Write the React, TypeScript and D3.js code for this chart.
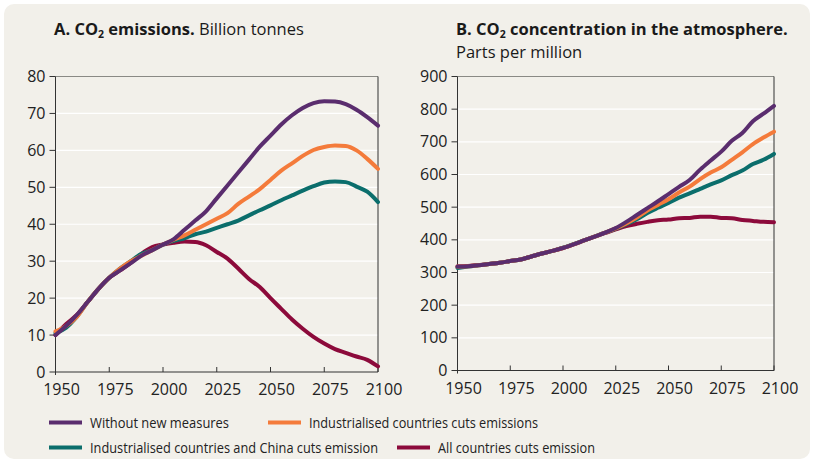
import React, { useEffect, useRef } from 'react';
import * as d3 from 'd3';

const years = [1950, 1955, 1960, 1965, 1970, 1975, 1980, 1985, 1990, 1995, 2000, 2005, 2010, 2015, 2020, 2025,
  2030, 2035, 2040, 2045, 2050, 2055, 2060, 2065, 2070, 2075, 2080, 2085, 2090, 2095, 2100];

// Panel A: CO2 emissions, billion tonnes
const emisNoMeasures = [10, 12.5, 15.5, 19, 22.5, 25.5, 27.5, 29.5, 31.5, 33, 34.5, 36, 38.5, 41, 43.5, 47,
  50.5, 54, 57.5, 61, 64, 67, 69.5, 71.5, 72.8, 73.3, 73.2, 72.5, 71, 69, 66.7];
const emisIndustrial = [11, 12.5, 15, 19, 22.5, 25.5, 28, 30, 31.5, 33, 34.5, 35.8, 37, 38.5, 40, 41.5,
  43, 45.5, 47.5, 49.5, 52, 54.5, 56.5, 58.5, 60.1, 60.9, 61.3, 61.2, 60, 57.7, 55];
const emisIndustrialChina = [10.5, 12, 15, 19, 22.5, 25.5, 28, 30, 32, 33, 34.5, 35.5, 36.2, 37.3, 38, 39,
  40, 41, 42.4, 43.8, 45.1, 46.5, 47.8, 49.1, 50.3, 51.3, 51.6, 51.4, 50.2, 48.8, 46];
const emisAll = [10, 13, 15.5, 19, 22.5, 25.5, 27.5, 29.5, 32, 33.8, 34.5, 35, 35.3, 35.2, 34.3, 32.5,
  30.7, 28, 25.2, 23, 20, 17.1, 14.2, 11.7, 9.5, 7.7, 6.2, 5.2, 4.2, 3.3, 1.5];

// Panel B: CO2 concentration, ppm
const concNoMeasures = [318, 319, 322, 326, 330, 335, 340, 349, 358, 366, 375, 386, 398, 410, 422, 436,
  455, 476, 497, 518, 540, 562, 583, 615, 643, 670, 703, 727, 763, 786, 810];
const concIndustrial = [318, 319, 322, 326, 330, 335, 340, 349, 358, 366, 375, 386, 398, 410, 422, 435,
  450, 468, 490, 507, 524, 545, 563, 586, 606, 622, 645, 668, 693, 713, 731];
const concIndustrialChina = [314, 318, 322, 326, 330, 335, 340, 349, 358, 366, 376, 387, 398, 410, 422, 434,
  448, 463, 482, 498, 513, 529, 542, 556, 570, 582, 598, 612, 632, 645, 663];
const concAll = [318, 320, 323, 326, 330, 335, 340, 349, 358, 366, 375, 386, 398, 410, 421, 432,
  442, 449, 455, 460, 462, 466, 467, 471, 471, 467, 466, 461, 458, 455, 454];

const xTicks = [1950, 1975, 2000, 2025, 2050, 2075, 2100];
const emisTicks = [0, 10, 20, 30, 40, 50, 60, 70, 80];
const concTicks = [0, 100, 200, 300, 400, 500, 600, 700, 800, 900];

const seriesNames = [
  'Without new measures',
  'Industrialised countries cuts emissions',
  'Industrialised countries and China cuts emission',
  'All countries cuts emission',
];
const colors = ['#5a2d6e', '#f47b3b', '#0b6e6c', '#8c0a3b'];

const BG = '#f2f0ea';
const FONT = "'Open Sans', 'Noto Sans', sans-serif";

export default function App() {
  const svgRef = useRef<SVGSVGElement>(null);

  useEffect(() => {
    if (!svgRef.current) return;
    const svg = d3.select(svgRef.current);
    svg.selectAll('*').remove();

    svg.append('rect')
      .attr('x', 4).attr('y', 4)
      .attr('width', 806).attr('height', 455)
      .attr('rx', 10)
      .attr('fill', BG);

    const drawPanel = (
      left: number, right: number, top: number, bottom: number,
      yMax: number, yTicks: number[], series: number[][]
    ) => {
      const x = d3.scaleLinear().domain([1950, 2100]).range([left, right]);
      const y = d3.scaleLinear().domain([0, yMax]).range([bottom, top]);
      const g = svg.append('g');

      // white gridlines
      g.selectAll('.grid')
        .data(yTicks.slice(1, -1))
        .join('line')
        .attr('x1', left).attr('x2', right)
        .attr('y1', d => y(d)).attr('y2', d => y(d))
        .attr('stroke', '#ffffff')
        .attr('stroke-width', 1.2);

      // frame
      g.append('line').attr('x1', left).attr('x2', right).attr('y1', top).attr('y2', top)
        .attr('stroke', '#8a8a85').attr('stroke-width', 1.2);
      g.append('line').attr('x1', right).attr('x2', right).attr('y1', top).attr('y2', bottom)
        .attr('stroke', '#333').attr('stroke-width', 1);
      g.append('line').attr('x1', left).attr('x2', left).attr('y1', top).attr('y2', bottom + 3)
        .attr('stroke', '#333').attr('stroke-width', 1);
      g.append('line').attr('x1', left).attr('x2', right).attr('y1', bottom).attr('y2', bottom)
        .attr('stroke', '#333').attr('stroke-width', 1);

      // y ticks + labels
      yTicks.forEach(t => {
        g.append('line').attr('x1', left - 6).attr('x2', left).attr('y1', y(t)).attr('y2', y(t))
          .attr('stroke', '#333').attr('stroke-width', 1);
        g.append('text')
          .attr('x', left - 10).attr('y', y(t) + 5.5)
          .attr('text-anchor', 'end')
          .attr('font-family', FONT)
          .attr('font-size', 16)
          .attr('fill', '#222')
          .text(t);
      });

      // x ticks + labels
      xTicks.forEach(t => {
        g.append('line').attr('x1', x(t)).attr('x2', x(t)).attr('y1', bottom - 5).attr('y2', bottom)
          .attr('stroke', '#333').attr('stroke-width', 1);
        g.append('text')
          .attr('x', x(t) + 6).attr('y', bottom + 23)
          .attr('text-anchor', 'middle')
          .attr('font-family', FONT)
          .attr('font-size', 16)
          .attr('fill', '#222')
          .text(t);
      });

      const line = d3.line<number>()
        .x((_, i) => x(years[i]))
        .y(d => y(d))
        .curve(d3.curveMonotoneX);

      // draw so purple ends on top like the reference
      const order = [3, 2, 1, 0];
      order.forEach(si => {
        g.append('path')
          .datum(series[si])
          .attr('d', line)
          .attr('fill', 'none')
          .attr('stroke', colors[si])
          .attr('stroke-width', 4)
          .attr('stroke-linejoin', 'round')
          .attr('stroke-linecap', 'round');
      });
    };

    drawPanel(55.5, 378, 76.5, 372, 80, emisTicks,
      [emisNoMeasures, emisIndustrial, emisIndustrialChina, emisAll]);
    drawPanel(457.5, 774, 76.5, 370.5, 900, concTicks,
      [concNoMeasures, concIndustrial, concIndustrialChina, concAll]);

    // titles
    const titleA = svg.append('text').attr('x', 54).attr('y', 35)
      .attr('font-family', FONT).attr('font-size', 16.5).attr('fill', '#1a1a1a');
    titleA.append('tspan').attr('font-weight', 'bold').text('A.  CO');
    titleA.append('tspan').attr('font-weight', 'bold').attr('font-size', 10.5).attr('dy', 3).text('2');
    titleA.append('tspan').attr('font-weight', 'bold').attr('dy', -3).text(' emissions.');
    titleA.append('tspan').text(' Billion tonnes');

    const titleB = svg.append('text').attr('x', 456).attr('y', 35)
      .attr('font-family', FONT).attr('font-size', 16.5).attr('fill', '#1a1a1a')
      .attr('font-weight', 'bold');
    titleB.append('tspan').text('B. CO');
    titleB.append('tspan').attr('font-size', 10.5).attr('dy', 3).text('2');
    titleB.append('tspan').attr('dy', -3).text(' concentration in the atmosphere.');
    svg.append('text').attr('x', 456).attr('y', 58)
      .attr('font-family', FONT).attr('font-size', 16.5).attr('fill', '#1a1a1a')
      .text('Parts per million');

    // legend
    const legendItems = [
      { i: 0, x: 49, y: 422.5, w: 139 },
      { i: 1, x: 268, y: 422.5, w: 229 },
      { i: 2, x: 49, y: 447.5, w: 288 },
      { i: 3, x: 397, y: 447.5, w: 157 },
    ];
    legendItems.forEach(item => {
      svg.append('line')
        .attr('x1', item.x).attr('x2', item.x + 33)
        .attr('y1', item.y).attr('y2', item.y)
        .attr('stroke', colors[item.i])
        .attr('stroke-width', 4);
      svg.append('text')
        .attr('x', item.x + 41).attr('y', item.y + 5)
        .attr('font-family', FONT)
        .attr('font-size', 14.5)
        .attr('fill', '#222')
        .attr('textLength', item.w)
        .attr('lengthAdjust', 'spacingAndGlyphs')
        .text(seriesNames[item.i]);
    });
  }, []);

  return (
    <svg
      ref={svgRef}
      width={816}
      height={462}
      style={{ position: 'absolute', left: 0, top: 0, background: '#ffffff' }}
    />
  );
}
